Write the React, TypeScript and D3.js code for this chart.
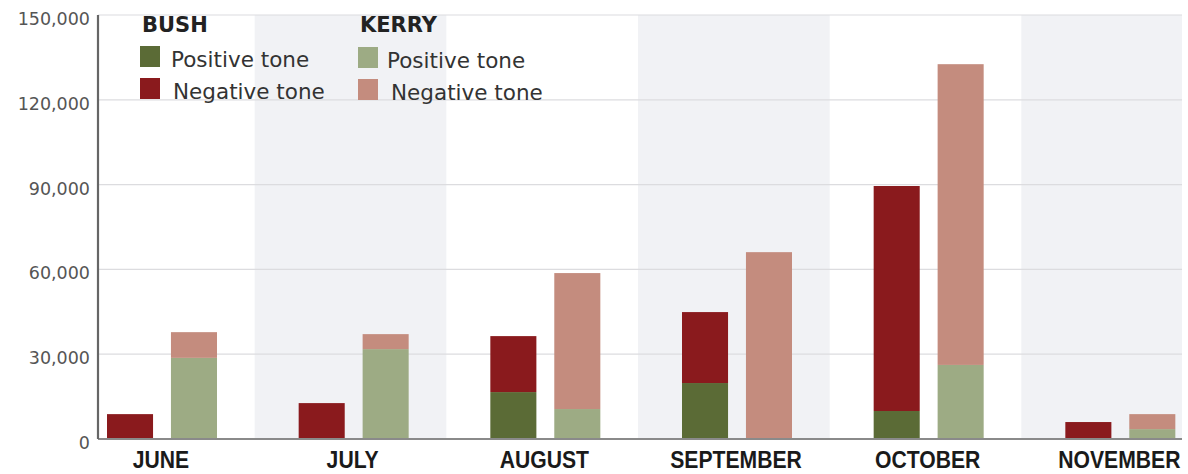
import React from "react";
import * as d3 from "d3";

// Monthly story counts by tone, 2004 campaign
const months = ["JUNE", "JULY", "AUGUST", "SEPTEMBER", "OCTOBER", "NOVEMBER"];
const bushPositive = [0, 0, 16600, 19800, 9900, 0];
const bushNegative = [8800, 12700, 19800, 25100, 79600, 6000];
const kerryPositive = [28700, 31800, 10600, 0, 26200, 3500];
const kerryNegative = [9100, 5300, 48100, 66100, 106400, 5300];
const yTicks = [0, 30000, 60000, 90000, 120000, 150000];

const candidates = ["bush", "kerry"];
const colors: Record<string, { positive: string; negative: string }> = {
  bush: { positive: "#5b6b36", negative: "#8a1a1d" },
  kerry: { positive: "#9dab84", negative: "#c48c7e" },
};

const W = 1188;
const H = 474;
const plotLeft = 98;
const plotRight = 1182;
const plotTop = 15;
const plotBottom = 439;

export default function App() {
  const x = d3.scaleBand<string>().domain(months).range([63, 1213]).padding(0);
  const inner = d3
    .scaleBand<string>()
    .domain(candidates)
    .range([44, 154])
    .paddingInner(0.28)
    .paddingOuter(0);
  const y = d3.scaleLinear().domain([0, 150000]).range([plotBottom, plotTop]);
  const fmt = d3.format(",");

  const rows = months.map((m, i) => ({
    month: m,
    bush: { positive: bushPositive[i], negative: bushNegative[i] },
    kerry: { positive: kerryPositive[i], negative: kerryNegative[i] },
  }));

  const stacks = candidates.map((c) =>
    d3
      .stack<any, string>()
      .keys(["positive", "negative"])
      .value((d, k) => d[c][k])(rows)
  );

  const sans = "'DejaVu Sans', Verdana, sans-serif";
  const labelFont = "'Liberation Sans', Arial, sans-serif";
  const pairCenter = (inner(candidates[0])! + inner(candidates[1])! + inner.bandwidth()) / 2;

  return (
    <svg
      width={W}
      height={H}
      viewBox={`0 0 ${W} ${H}`}
      style={{ position: "absolute", left: 0, top: 0, background: "#fff" }}
    >
      <defs>
        <clipPath id="plot-clip">
          <rect x={plotLeft} y={0} width={plotRight - plotLeft} height={plotBottom} />
        </clipPath>
      </defs>

      {/* alternating month bands */}
      <g clipPath="url(#plot-clip)">
        {months.map((m, i) =>
          i % 2 === 1 ? (
            <rect
              key={m}
              x={x(m)!}
              y={plotTop}
              width={x.bandwidth()}
              height={plotBottom - plotTop}
              fill="#f1f2f5"
            />
          ) : null
        )}
      </g>

      {/* gridlines */}
      {yTicks.slice(1).map((t) => (
        <line
          key={t}
          x1={plotLeft}
          x2={plotRight}
          y1={y(t)}
          y2={y(t)}
          stroke="#dcdcdf"
          strokeWidth={1.2}
        />
      ))}

      {/* y tick labels */}
      {yTicks.map((t) => (
        <text
          key={t}
          x={90}
          y={y(t) + 10}
          textAnchor="end"
          fontFamily={sans}
          fontSize={17.5}
          fill="#555"
        >
          {fmt(t)}
        </text>
      ))}

      {/* stacked bars */}
      {candidates.map((c, ci) =>
        stacks[ci].map((layer) =>
          layer.map((seg, i) => {
            const h = y(seg[0]) - y(seg[1]);
            if (h <= 0) return null;
            return (
              <rect
                key={`${c}-${layer.key}-${i}`}
                x={x(months[i])! + inner(c)!}
                y={y(seg[1])}
                width={inner.bandwidth()}
                height={h}
                fill={colors[c][layer.key as "positive" | "negative"]}
              />
            );
          })
        )
      )}

      {/* axes */}
      <line x1={plotLeft} x2={plotRight} y1={plotBottom} y2={plotBottom} stroke="#8a8a8a" strokeWidth={2} />
      <line x1={plotLeft} x2={plotLeft} y1={plotTop} y2={plotBottom} stroke="#666" strokeWidth={2.2} />

      {/* month labels, set in a condensed bold cut */}
      {months.map((m) => (
        <text
          key={m}
          transform={`translate(${x(m)! + pairCenter - 1},468) scale(0.9,1)`}
          textAnchor="middle"
          fontFamily={labelFont}
          fontWeight="bold"
          fontSize={23.5}
          fill="#1a1a1a"
        >
          {m}
        </text>
      ))}

      {/* legend */}
      <g fontFamily={sans} fill="#222">
        <text x={142} y={32} fontWeight="bold" fontSize={21}>BUSH</text>
        <rect x={140} y={46} width={20} height={21} fill={colors.bush.positive} />
        <text x={171} y={67} fontSize={21.5} fill="#333">Positive tone</text>
        <rect x={140} y={78} width={20} height={21} fill={colors.bush.negative} />
        <text x={173} y={99} fontSize={21.5} fill="#333">Negative tone</text>

        <text x={360} y={32} fontWeight="bold" fontSize={21}>KERRY</text>
        <rect x={358} y={47} width={20} height={21} fill={colors.kerry.positive} />
        <text x={387} y={68} fontSize={21.5} fill="#333">Positive tone</text>
        <rect x={358} y={79} width={20} height={21} fill={colors.kerry.negative} />
        <text x={391} y={100} fontSize={21.5} fill="#333">Negative tone</text>
      </g>
    </svg>
  );
}
